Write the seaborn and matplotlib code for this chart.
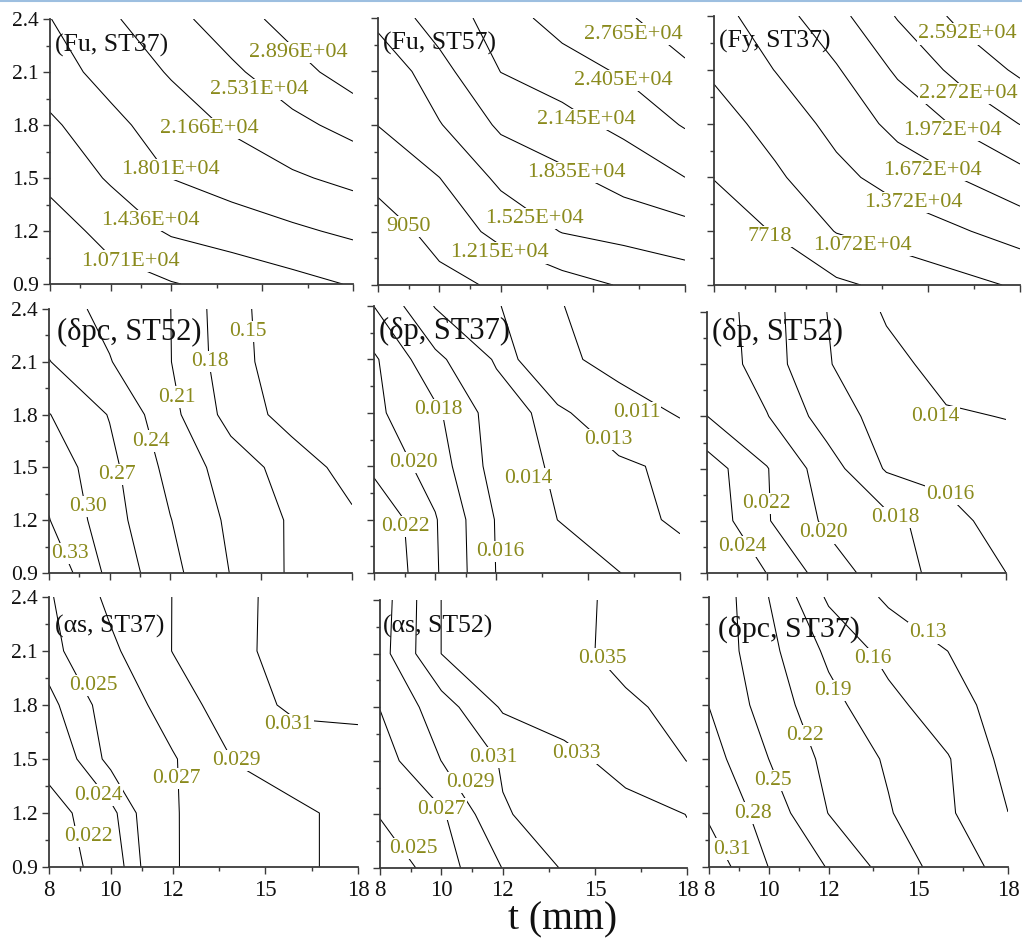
import matplotlib
matplotlib.use("Agg")
import matplotlib.pyplot as plt
from matplotlib.lines import Line2D
import numpy as np
import seaborn as sns

# ---------------- data ----------------
t_mm = [8, 10, 12, 14, 16, 18]            # grid columns (plate thickness)
h_val = [0.9, 1.2, 1.5, 1.8, 2.1, 2.4]     # grid rows (vertical variable)

x_ticks = [8, 10, 12, 15, 18]
x_minor = [9, 11, 13.5, 16.5]
y_ticks = [0.9, 1.2, 1.5, 1.8, 2.1, 2.4]
y_minor = [1.05, 1.35, 1.65, 1.95, 2.25]

fu_st37 = [
    [8200, 9300, 10500, 11800, 13200, 14600],
    [8900, 12000, 14820, 16100, 17400, 18700],
    [11700, 14770, 18050, 19600, 21150, 22600],
    [13680, 17080, 19780, 22150, 24330, 26510],
    [16500, 19250, 22000, 24650, 27590, 30630],
    [17930, 21160, 24160, 27290, 30410, 32000],
]
fu_st37_levels = [10710, 14360, 18010, 21660, 25310, 28960]

fu_st57 = [
    [6800, 8100, 9550, 10950, 12400, 13600],
    [7250, 10250, 13060, 15360, 16250, 17140],
    [10060, 12100, 15920, 17600, 19490, 21400],
    [12200, 15060, 18890, 20450, 22180, 24260],
    [12720, 17300, 21500, 22820, 24360, 27100],
    [16200, 19780, 22830, 25150, 27230, 29300],
]
fu_st57_levels = [9050, 12150, 15250, 18350, 21450, 24050, 27650]

fy_st37 = [
    [5100, 6100, 7200, 8500, 9800, 11100],
    [6200, 7880, 10850, 12100, 13400, 15000],
    [7800, 10220, 12900, 14955, 16750, 18700],
    [9400, 11870, 14640, 17640, 20130, 22800],
    [11200, 13790, 16450, 20175, 23590, 26500],
    [12590, 15450, 18745, 22940, 26660, 28800],
]
fy_st37_levels = [7718, 10720, 13720, 16720, 19720, 22720, 25920]

dpc_st52 = [
    [0.355, 0.292, 0.249, 0.209, 0.176, 0.160],
    [0.331, 0.2825, 0.241, 0.204, 0.1765, 0.155],
    [0.320, 0.278, 0.231, 0.196, 0.167, 0.138],
    [0.301, 0.2685, 0.219, 0.169, 0.138, 0.126],
    [0.271, 0.2414, 0.211, 0.1625, 0.131, 0.124],
    [0.2536, 0.232, 0.2105, 0.160, 0.131, 0.124],
]
dpc_st52_levels = [0.15, 0.18, 0.21, 0.24, 0.27, 0.30, 0.33]

dp_st37 = [
    [0.0242, 0.02025, 0.01595, 0.01499, 0.01402, 0.0135],
    [0.0238, 0.02015, 0.01586, 0.01399, 0.01341, 0.01282],
    [0.0215, 0.01911, 0.01513, 0.01369, 0.01323, 0.0127],
    [0.0204, 0.0184, 0.01498, 0.01326, 0.01206, 0.01081],
    [0.0203, 0.0165, 0.01379, 0.01156, 0.0102, 0.0095],
    [0.01798, 0.01389, 0.01316, 0.0111, 0.0102, 0.0095],
]
dp_st37_levels = [0.011, 0.013, 0.014, 0.016, 0.018, 0.020, 0.022]

dp_st52 = [
    [0.0250, 0.02399, 0.02108, 0.01894, 0.01734, 0.01601],
    [0.0254, 0.02216, 0.01965, 0.01858, 0.0170, 0.0148],
    [0.02503, 0.0221, 0.01896, 0.0158, 0.0151, 0.0148],
    [0.02202, 0.0201, 0.0171, 0.01518, 0.0142, 0.01395],
    [0.0215, 0.01898, 0.01614, 0.01463, 0.0133, 0.0132],
    [0.0213, 0.01886, 0.01601, 0.01377, 0.0128, 0.0127],
]
dp_st52_levels = [0.014, 0.016, 0.018, 0.020, 0.022, 0.024]

as_st37 = [
    [0.0205, 0.0232, 0.0269, 0.0278, 0.0287, 0.0295],
    [0.021, 0.02367, 0.0269, 0.02782, 0.0287, 0.0295],
    [0.0229, 0.02534, 0.02682, 0.0291, 0.0299, 0.0303],
    [0.0237, 0.02555, 0.02797, 0.03011, 0.0314, 0.0314],
    [0.0245, 0.02661, 0.02904, 0.03054, 0.0318, 0.0322],
    [0.0248, 0.02746, 0.02902, 0.0305, 0.0318, 0.0322],
]
as_st37_levels = [0.022, 0.024, 0.025, 0.027, 0.029, 0.031]

as_st52 = [
    [0.0235, 0.02607, 0.02905, 0.03118, 0.0319, 0.0327],
    [0.02513, 0.0267, 0.03087, 0.03166, 0.03234, 0.03302],
    [0.02608, 0.02902, 0.03118, 0.0324, 0.03368, 0.03502],
    [0.02705, 0.0301, 0.03323, 0.03397, 0.03471, 0.0355],
    [0.0282, 0.03302, 0.03373, 0.0345, 0.0355, 0.0360],
    [0.0280, 0.03302, 0.03378, 0.03458, 0.03536, 0.0360],
]
as_st52_levels = [0.025, 0.027, 0.029, 0.031, 0.033, 0.035]

dpc_st37 = [
    [0.328, 0.2795, 0.2483, 0.2083, 0.1764, 0.1495],
    [0.3053, 0.2676, 0.2193, 0.1923, 0.1642, 0.1302],
    [0.2924, 0.2499, 0.2117, 0.1863, 0.1618, 0.120],
    [0.2795, 0.2362, 0.1995, 0.169, 0.1421, 0.1166],
    [0.272, 0.2282, 0.184, 0.150, 0.1298, 0.115],
    [0.275, 0.2198, 0.155, 0.125, 0.118, 0.112],
]
dpc_st37_levels = [0.13, 0.16, 0.19, 0.22, 0.25, 0.28, 0.31]

# ---------------- styling / layout ----------------
sns.set_theme(style="ticks")
plt.rcParams["font.family"] = ["Liberation Serif", "DejaVu Serif"]
plt.rcParams["axes.edgecolor"] = "#3a3a3a"
plt.rcParams["xtick.color"] = "#3a3a3a"
plt.rcParams["ytick.color"] = "#3a3a3a"
plt.rcParams["xtick.labelcolor"] = "#111111"
plt.rcParams["ytick.labelcolor"] = "#111111"

LABEL_COLOR = "#8a8a1c"
W, H = 1022, 940


def fmt_force(v):
    return f"{v:.3E}" if v >= 10000 else f"{v:.0f}"


def fmt2(v):
    return f"{v:.2f}"


def fmt3(v):
    return f"{v:.3f}"


# label spots (x, y) listed in the same order as each panel's levels
panels = [
    ("(Fu, ST37)", fu_st37, fu_st37_levels, fmt_force, (50, 353, 19, 284), (0.017, 0.90), 18.5, 16,
     [(10.64, 1.03), (11.3, 1.26), (11.96, 1.546), (13.27, 1.78), (14.92, 2.0), (16.19, 2.21)]),
    ("(Fu, ST57)", fu_st57, fu_st57_levels, fmt_force, (378, 685, 18, 285), (0.016, 0.905), 18.5, 16,
     [(8.98, 1.23), (11.97, 1.08), (13.11, 1.275), (14.47, 1.53), (14.79, 1.83), (15.99, 2.05), (16.32, 2.31)]),
    ("(Fy, ST37)", fy_st37, fy_st37_levels, fmt_force, (714, 1020, 16, 285), (0.016, 0.905), 18.5, 16,
     [(9.82, 1.17), (12.85, 1.12), (14.53, 1.36), (15.13, 1.54), (15.78, 1.76), (16.32, 1.97), (16.27, 2.30)]),
    ("(δpc, ST52)", dpc_st52, dpc_st52_levels, fmt2, (49, 352, 309, 573), (0.026, 0.91), 22, 15.5,
     [(14.58, 2.27), (13.31, 2.10), (12.21, 1.90), (11.38, 1.65), (10.23, 1.46), (9.29, 1.28), (8.68, 1.01)]),
    ("(δp, ST37)", dp_st37, dp_st37_levels, fmt3, (374, 680, 306, 573), (0.016, 0.905), 22, 15.5,
     [(16.58, 1.80), (15.66, 1.65), (13.04, 1.43), (12.12, 1.02), (10.1, 1.82), (9.29, 1.52), (9.01, 1.16)]),
    ("(δp, ST52)", dp_st52, dp_st52_levels, fmt3, (707, 1006, 312, 573), (0.016, 0.92), 22, 15.5,
     [(15.63, 1.80), (16.13, 1.35), (14.29, 1.22), (11.9, 1.13), (10.0, 1.30), (9.17, 1.05)]),
    ("(αs, ST37)", as_st37, as_st37_levels, fmt3, (49, 358, 597, 867), (0.02, 0.89), 18.5, 15.5,
     [(9.27, 1.07), (9.59, 1.30), (9.43, 1.91), (12.13, 1.39), (14.08, 1.49), (15.76, 1.69)]),
    ("(αs, ST52)", as_st52, as_st52_levels, fmt3, (380, 687, 600, 868), (0.01, 0.90), 18.5, 15.5,
     [(9.09, 1.01), (10.01, 1.23), (10.93, 1.38), (11.7, 1.52), (14.41, 1.54), (15.23, 2.07)]),
    ("(δpc, ST37)", dpc_st37, dpc_st37_levels, fmt2, (709, 1008, 597, 867), (0.03, 0.88), 21.5, 15.5,
     [(15.32, 2.2), (13.48, 2.06), (12.15, 1.88), (11.2, 1.63), (10.14, 1.38), (9.47, 1.2), (8.78, 1.0)]),
]

fig = plt.figure(figsize=(W / 100, H / 100), dpi=100)

for i, (title, z, levels, fmt, (L, R, T, B), tpos, tsize, lsize, spots) in enumerate(panels):
    ax = fig.add_axes([L / W, (H - B) / H, (R - L) / W, (B - T) / H])
    ax.contour(t_mm, h_val, np.array(z, dtype=float), levels=levels,
               colors="black", linewidths=0.75)
    for lev, (lx, ly) in zip(levels, spots):
        ax.text(lx, ly, fmt(lev), ha="center", va="center", fontsize=lsize,
                color=LABEL_COLOR, zorder=5,
                bbox=dict(facecolor="white", edgecolor="none", pad=0.8))
    ax.text(tpos[0], tpos[1], title, transform=ax.transAxes, ha="left", va="center",
            fontsize=tsize, color="#111111", zorder=6)

    ax.set_xlim(8, 18)
    ax.set_ylim(0.9, 2.4)
    ax.set_xticks(x_ticks)
    ax.set_xticks(x_minor, minor=True)
    ax.set_yticks(y_ticks)
    ax.set_yticks(y_minor, minor=True)
    ax.set_xticklabels([str(v) for v in x_ticks])
    ax.set_yticklabels([f"{v:.1f}" for v in y_ticks])
    ax.tick_params(which="major", direction="out", length=5, width=1.0, pad=3)
    ax.tick_params(which="minor", direction="out", length=3, width=1.0)
    ax.tick_params(axis="y", which="major", labelsize=15.5)
    ax.tick_params(axis="x", which="major", labelsize=16.5, pad=4)
    row, col = divmod(i, 3)
    if col != 0:
        ax.tick_params(labelleft=False)
    if row != 2:
        ax.tick_params(labelbottom=False)
    sns.despine(ax=ax)
    for s in ("left", "bottom"):
        ax.spines[s].set_linewidth(1.3)
    ax.set_facecolor("white")

fig.text(563 / W, 1 - 920 / H, "t (mm)", ha="center", va="center", fontsize=28.5, color="#111111")
fig.add_artist(Line2D([0, 1], [1 - 1.0 / H, 1 - 1.0 / H], transform=fig.transFigure,
                      color="#9dbfe0", linewidth=1.5))

fig.savefig("out.png", dpi=100, facecolor="white")
